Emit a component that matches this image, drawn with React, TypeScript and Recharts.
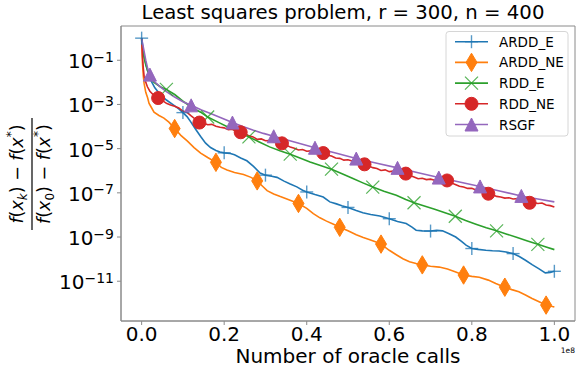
import React from "react";
import { LineChart, Line, XAxis, YAxis, ReferenceArea } from "recharts";

const W = 581;
const H = 373;
const FONT = "'DejaVu Sans', sans-serif";

// x: number of oracle calls in units of 1e8; second value: log10 of relative error
const ARDD_E: [number, number][] = [
  [0, 0], [0.002, -0.3], [0.004, -0.6], [0.008, -1.0], [0.014, -1.45], [0.022, -1.9], [0.032, -2.25],
  [0.045, -2.55], [0.06, -2.8], [0.075, -3.0], [0.09, -3.2], [0.1, -3.37], [0.11, -3.55], [0.119, -3.79],
  [0.13, -4.1], [0.143, -4.45], [0.155, -4.75], [0.167, -4.95], [0.18, -5.08], [0.19, -5.15], [0.2, -5.19],
  [0.215, -5.22], [0.225, -5.28], [0.24, -5.42], [0.255, -5.55], [0.271, -5.8], [0.287, -6.1], [0.3, -6.2],
  [0.315, -6.25], [0.328, -6.3], [0.345, -6.47], [0.36, -6.6], [0.376, -6.73], [0.39, -6.88], [0.4, -6.96],
  [0.42, -7.08], [0.44, -7.19], [0.456, -7.41], [0.472, -7.5], [0.485, -7.58], [0.5, -7.66], [0.52, -7.8],
  [0.536, -7.9], [0.555, -7.98], [0.577, -8.05], [0.6, -8.17], [0.62, -8.3], [0.641, -8.39], [0.655, -8.55],
  [0.665, -8.69], [0.68, -8.72], [0.7, -8.73], [0.715, -8.7], [0.729, -8.72], [0.745, -8.85], [0.761, -9.0],
  [0.775, -9.2], [0.786, -9.37], [0.8, -9.52], [0.815, -9.56], [0.834, -9.6], [0.85, -9.62], [0.866, -9.63],
  [0.883, -9.68], [0.9, -9.75], [0.915, -9.88], [0.93, -10.05], [0.946, -10.25], [0.962, -10.43],
  [0.978, -10.62], [0.99, -10.6], [1.0, -10.55],
];
const ARDD_E_MARKS = [0, 0.1, 0.2, 0.3, 0.4, 0.5, 0.6, 0.7, 0.8, 0.9, 1.0];

const ARDD_NE: [number, number][] = [
  [0, 0], [0.001, -0.5], [0.002, -1.12], [0.004, -1.7], [0.006, -2.05], [0.01, -2.45], [0.0145, -2.7],
  [0.018, -2.95], [0.024, -3.15], [0.03, -3.35], [0.042, -3.5], [0.054, -3.62], [0.066, -3.8], [0.08, -4.09],
  [0.095, -4.4], [0.111, -4.66], [0.127, -4.95], [0.143, -5.2], [0.16, -5.4], [0.18, -5.62], [0.193, -5.85],
  [0.207, -5.97], [0.225, -6.08], [0.247, -6.17], [0.265, -6.3], [0.28, -6.46], [0.293, -6.7], [0.304, -6.9],
  [0.32, -7.05], [0.336, -7.17], [0.355, -7.3], [0.38, -7.48], [0.4, -7.7], [0.416, -7.94], [0.432, -8.13],
  [0.448, -8.28], [0.465, -8.42], [0.48, -8.56], [0.5, -8.72], [0.52, -8.9], [0.537, -9.02], [0.553, -9.12],
  [0.568, -9.22], [0.58, -9.32], [0.6, -9.6], [0.617, -9.8], [0.633, -9.98], [0.649, -10.12], [0.665, -10.2],
  [0.68, -10.26], [0.7, -10.32], [0.721, -10.36], [0.741, -10.45], [0.761, -10.58], [0.78, -10.72],
  [0.8, -10.78], [0.818, -10.82], [0.84, -10.95], [0.858, -11.1], [0.88, -11.27], [0.897, -11.38],
  [0.914, -11.48], [0.93, -11.62], [0.946, -11.78], [0.963, -11.93], [0.98, -12.08], [0.99, -12.12],
  [1.0, -12.17],
];
const ARDD_NE_MARKS = [0.08, 0.18, 0.28, 0.38, 0.48, 0.58, 0.68, 0.78, 0.88, 0.98];

const RDD_E: [number, number][] = [
  [0, 0], [0.002, -0.4], [0.005, -0.8], [0.01, -1.2], [0.015, -1.5], [0.022, -1.8], [0.03, -2.0],
  [0.045, -2.2], [0.06, -2.32], [0.08, -2.55], [0.103, -2.89], [0.123, -3.15], [0.143, -3.35], [0.16, -3.57],
  [0.185, -3.8], [0.21, -4.03], [0.235, -4.25], [0.26, -4.47], [0.285, -4.7], [0.31, -4.92], [0.335, -5.1],
  [0.36, -5.25], [0.385, -5.43], [0.408, -5.6], [0.435, -5.77], [0.46, -5.93], [0.487, -6.15], [0.512, -6.35],
  [0.536, -6.55], [0.56, -6.74], [0.587, -6.93], [0.617, -7.11], [0.64, -7.3], [0.66, -7.45], [0.685, -7.6],
  [0.71, -7.74], [0.735, -7.9], [0.76, -8.06], [0.785, -8.25], [0.81, -8.42], [0.835, -8.58], [0.86, -8.72],
  [0.885, -8.87], [0.91, -9.02], [0.935, -9.18], [0.96, -9.33], [0.98, -9.45], [1.0, -9.57],
];
const RDD_E_MARKS = [0.06, 0.16, 0.26, 0.36, 0.46, 0.56, 0.66, 0.76, 0.86, 0.96];

const RDD_NE: [number, number][] = [
  [0, 0], [0.001, -0.4], [0.002, -0.82], [0.004, -1.35], [0.006, -1.72], [0.01, -2.0], [0.014, -2.2],
  [0.02, -2.4], [0.03, -2.6], [0.04, -2.71], [0.05, -2.82], [0.06, -2.95], [0.07, -3.02], [0.08, -3.08],
  [0.09, -3.16], [0.1, -3.3], [0.11, -3.36], [0.12, -3.52], [0.13, -3.66], [0.14, -3.82], [0.15, -3.84],
  [0.16, -3.92], [0.17, -3.9], [0.18, -3.99], [0.19, -4.03], [0.2, -4.06], [0.21, -4.14], [0.22, -4.12],
  [0.23, -4.22], [0.24, -4.26], [0.25, -4.31], [0.26, -4.42], [0.27, -4.47], [0.28, -4.58], [0.29, -4.56],
  [0.3, -4.64], [0.31, -4.63], [0.32, -4.7], [0.33, -4.72], [0.34, -4.76], [0.35, -4.84], [0.36, -4.93],
  [0.37, -4.98], [0.38, -5.06], [0.39, -5.04], [0.4, -5.12], [0.41, -5.1], [0.42, -5.16], [0.43, -5.15],
  [0.44, -5.2], [0.45, -5.3], [0.46, -5.33], [0.47, -5.42], [0.48, -5.44], [0.49, -5.52], [0.5, -5.5],
  [0.51, -5.56], [0.52, -5.58], [0.53, -5.66], [0.54, -5.71], [0.55, -5.78], [0.56, -5.86], [0.57, -5.9],
  [0.58, -5.99], [0.59, -5.96], [0.6, -6.04], [0.61, -6.02], [0.62, -6.09], [0.63, -6.1], [0.64, -6.13],
  [0.65, -6.22], [0.66, -6.28], [0.67, -6.36], [0.68, -6.34], [0.69, -6.4], [0.7, -6.38], [0.71, -6.43],
  [0.72, -6.4], [0.73, -6.46], [0.74, -6.44], [0.75, -6.55], [0.76, -6.62], [0.77, -6.7], [0.78, -6.74],
  [0.79, -6.8], [0.8, -6.79], [0.81, -6.87], [0.82, -6.9], [0.83, -6.97], [0.84, -7.04], [0.85, -7.08],
  [0.86, -7.16], [0.87, -7.19], [0.88, -7.24], [0.89, -7.22], [0.9, -7.28], [0.91, -7.26], [0.92, -7.35],
  [0.93, -7.4], [0.94, -7.45], [0.95, -7.44], [0.96, -7.48], [0.97, -7.46], [0.98, -7.55], [0.99, -7.58],
  [1.0, -7.64],
];
const RDD_NE_MARKS = [0.04, 0.14, 0.24, 0.34, 0.44, 0.54, 0.64, 0.74, 0.84, 0.94];

const RSGF: [number, number][] = [
  [0, 0], [0.002, -0.2], [0.006, -0.6], [0.01, -1.0], [0.015, -1.4], [0.02, -1.65], [0.03, -1.95],
  [0.046, -2.22], [0.06, -2.42], [0.079, -2.65], [0.1, -2.88], [0.12, -3.04], [0.145, -3.25], [0.167, -3.41],
  [0.195, -3.62], [0.22, -3.82], [0.245, -4.0], [0.271, -4.17], [0.295, -4.31], [0.32, -4.44], [0.37, -4.7],
  [0.42, -4.96], [0.47, -5.2], [0.52, -5.45], [0.57, -5.66], [0.62, -5.87], [0.67, -6.09], [0.72, -6.31],
  [0.77, -6.51], [0.82, -6.71], [0.87, -6.93], [0.92, -7.14], [0.96, -7.28], [1.0, -7.41],
];
const RSGF_MARKS = [0.02, 0.12, 0.22, 0.32, 0.42, 0.52, 0.62, 0.72, 0.82, 0.92];

const SERIES_NAMES = ["ARDD_E", "ARDD_NE", "RDD_E", "RDD_NE", "RSGF"];
const COLORS = ["#1f77b4", "#ff7f0e", "#2ca02c", "#d62728", "#9467bd"];
const MARKER_KINDS = ["plus", "diamond", "x", "circle", "triangle"];

const X_TICKS = [0, 0.2, 0.4, 0.6, 0.8, 1.0];
const Y_TICKS = [1e-1, 1e-3, 1e-5, 1e-7, 1e-9, 1e-11];
const X_DOMAIN: [number, number] = [-0.05, 1.05];
const Y_DOMAIN: [number, number] = [Math.pow(10, -12.8), Math.pow(10, 0.55)];

const RAW = [ARDD_E, ARDD_NE, RDD_E, RDD_NE, RSGF];
const MARKS = [ARDD_E_MARKS, ARDD_NE_MARKS, RDD_E_MARKS, RDD_NE_MARKS, RSGF_MARKS];

const SERIES = SERIES_NAMES.map((name, i) => ({
  name,
  color: COLORS[i],
  kind: MARKER_KINDS[i],
  rows: RAW[i].map(([x, lg]) => ({
    x,
    y: Math.pow(10, lg),
    mark: MARKS[i].some((m) => Math.abs(m - x) < 1e-9),
  })),
}));

const SPINE = "#8a8a8a";

function Marker({ kind, cx, cy, color }: { kind: string; cx: number; cy: number; color: string }) {
  const s = 6.5;
  switch (kind) {
    case "plus":
      return (
        <g stroke={color} strokeWidth={1.4} strokeOpacity={0.75}>
          <line x1={cx - s} y1={cy} x2={cx + s} y2={cy} />
          <line x1={cx} y1={cy - s} x2={cx} y2={cy + s} />
        </g>
      );
    case "x":
      return (
        <g stroke={color} strokeWidth={1.2} strokeOpacity={0.8}>
          <line x1={cx - s} y1={cy - s} x2={cx + s} y2={cy + s} />
          <line x1={cx - s} y1={cy + s} x2={cx + s} y2={cy - s} />
        </g>
      );
    case "diamond":
      return (
        <polygon
          points={`${cx},${cy - 9.2} ${cx + 5.5},${cy} ${cx},${cy + 9.2} ${cx - 5.5},${cy}`}
          fill={color}
          stroke={color}
          strokeWidth={1}
        />
      );
    case "circle":
      return <circle cx={cx} cy={cy} r={6.5} fill={color} stroke={color} strokeWidth={1} />;
    case "triangle":
      return (
        <polygon
          points={`${cx},${cy - s} ${cx + s},${cy + s} ${cx - s},${cy + s}`}
          fill={color}
          stroke={color}
          strokeWidth={1}
        />
      );
    default:
      return null;
  }
}

const YTick = (props: any) => {
  const { x, y, payload } = props;
  const e = Math.round(Math.log10(payload.value));
  return (
    <text x={x} y={y + 8} textAnchor="end" fontFamily={FONT} fontSize={20} fill="#000">
      <tspan>10</tspan>
      <tspan dy={-6.5} fontSize={14}>{`\u2212${Math.abs(e)}`}</tspan>
    </text>
  );
};

export default function App() {
  return (
    <div style={{ position: "absolute", left: 0, top: 0, width: W, height: H, background: "#fff" }}>
      <LineChart width={W} height={H} margin={{ top: 26, right: 6, bottom: 0, left: 0 }}>
        <XAxis
          dataKey="x"
          type="number"
          domain={X_DOMAIN}
          ticks={X_TICKS}
          allowDataOverflow
          height={52}
          tickSize={4}
          tickMargin={2}
          tickFormatter={(v: number) => v.toFixed(1)}
          tick={{ fontSize: 20, fill: "#000", fontFamily: FONT }}
          stroke={SPINE}
          axisLine={{ stroke: SPINE }}
          tickLine={{ stroke: SPINE }}
        />
        <YAxis
          type="number"
          scale="log"
          domain={Y_DOMAIN}
          ticks={Y_TICKS}
          allowDataOverflow
          width={121}
          tickSize={4}
          tickMargin={3}
          tick={<YTick />}
          axisLine={{ stroke: SPINE }}
          tickLine={{ stroke: SPINE }}
        />
        <ReferenceArea
          x1={X_DOMAIN[0]}
          x2={X_DOMAIN[1]}
          y1={Y_DOMAIN[0]}
          y2={Y_DOMAIN[1]}
          fill="none"
          fillOpacity={0}
          stroke={SPINE}
          strokeWidth={1}
          ifOverflow="visible"
        />
        {SERIES.map((s) => (
          <Line
            key={s.name}
            data={s.rows}
            dataKey="y"
            name={s.name}
            type="linear"
            stroke={s.color}
            strokeWidth={1.6}
            isAnimationActive={false}
            activeDot={false}
            dot={(p: any) => {
              const k = `${s.name}-${p.index}`;
              if (!p.payload || !p.payload.mark) return <g key={k} />;
              return (
                <g key={k}>
                  <Marker kind={s.kind} cx={p.cx} cy={p.cy} color={s.color} />
                </g>
              );
            }}
          />
        ))}
      </LineChart>
      <svg
        width={W}
        height={H}
        style={{ position: "absolute", left: 0, top: 0, pointerEvents: "none" }}
        fontFamily={FONT}
      >
        <text x={343} y={19} textAnchor="middle" fontSize={19.7} fill="#000">
          Least squares problem, r = 300, n = 400
        </text>
        <text x={348} y={363} textAnchor="middle" fontSize={20} fill="#000">
          Number of oracle calls
        </text>
        <text x={575} y={353} textAnchor="end" fontSize={7.5} fill="#000">
          1e8
        </text>
        <g transform="translate(32,174) rotate(-90)" fill="#000" fontSize={17.5}>
          <text x={0} y={-9} textAnchor="middle">
            <tspan fontStyle="italic">f</tspan>
            <tspan>(</tspan>
            <tspan fontStyle="italic">x</tspan>
            <tspan fontStyle="italic" fontSize={12} dy={4}>k</tspan>
            <tspan dy={-4}>)</tspan>
            <tspan>{" \u2212 "}</tspan>
            <tspan fontStyle="italic">f</tspan>
            <tspan>(</tspan>
            <tspan fontStyle="italic">x</tspan>
            <tspan fontSize={12} dy={-8}>*</tspan>
            <tspan dy={8}>)</tspan>
          </text>
          <line x1={-56} y1={0} x2={56} y2={0} stroke="#000" strokeWidth={1.2} />
          <text x={0} y={18} textAnchor="middle">
            <tspan fontStyle="italic">f</tspan>
            <tspan>(</tspan>
            <tspan fontStyle="italic">x</tspan>
            <tspan fontSize={12} dy={4}>0</tspan>
            <tspan dy={-4}>)</tspan>
            <tspan>{" \u2212 "}</tspan>
            <tspan fontStyle="italic">f</tspan>
            <tspan>(</tspan>
            <tspan fontStyle="italic">x</tspan>
            <tspan fontSize={12} dy={-8}>*</tspan>
            <tspan dy={8}>)</tspan>
          </text>
        </g>
        <rect x={446} y={31.5} width={122} height={104.5} rx={3} fill="#fff" fillOpacity={0.8} stroke="#d6d6d6" />
        {SERIES.map((s, i) => {
          const cy = 41.7 + i * 20.7;
          return (
            <g key={s.name}>
              <line x1={455} y1={cy} x2={488} y2={cy} stroke={s.color} strokeWidth={1.6} />
              <Marker kind={s.kind} cx={471.5} cy={cy} color={s.color} />
              <text x={499} y={cy + 5} fontSize={13.5} fill="#000">
                {s.name}
              </text>
            </g>
          );
        })}
      </svg>
    </div>
  );
}
